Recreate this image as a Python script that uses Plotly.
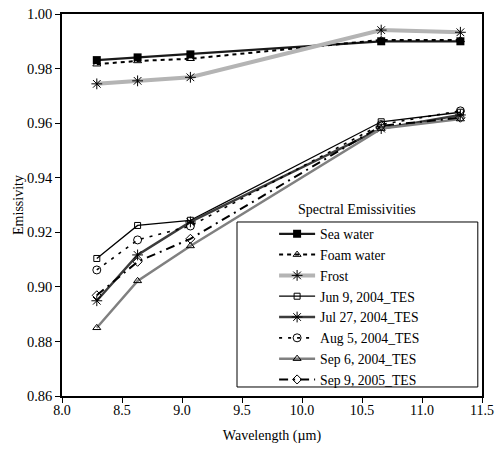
import plotly.graph_objects as go

wavelength = [8.29, 8.63, 9.07, 10.66, 11.32]

sea_water = [0.9831, 0.9841, 0.9852, 0.9900, 0.9900]
foam_water = [0.9816, 0.9828, 0.9836, 0.9905, 0.9905]
frost = [0.9744, 0.9755, 0.9768, 0.9941, 0.9933]
jun9_2004 = [0.9104, 0.9225, 0.9244, 0.9605, 0.9640]
jul27_2004 = [0.8949, 0.9117, 0.9238, 0.9580, 0.9630]
aug5_2004 = [0.9062, 0.9172, 0.9223, 0.9595, 0.9645]
sep6_2004 = [0.8850, 0.9022, 0.9150, 0.9580, 0.9615]
sep9_2005 = [0.8969, 0.9092, 0.9176, 0.9590, 0.9620]

names = ["Sea water", "Foam water", "Frost", "Jun 9, 2004_TES", "Jul 27, 2004_TES",
         "Aug 5, 2004_TES", "Sep 6, 2004_TES", "Sep 9, 2005_TES"]

x_ticks = [8.0, 8.5, 9.0, 9.5, 10.0, 10.5, 11.0, 11.5]
y_ticks = [0.86, 0.88, 0.90, 0.92, 0.94, 0.96, 0.98, 1.00]

FONT = "Liberation Serif, Times New Roman, Times, serif"

styles = [
    dict(line=dict(color="#1a1a1a", width=2.2),
         marker=dict(symbol="square", size=8, color="black")),
    dict(line=dict(color="black", width=2, dash="4px,4px"),
         marker=dict(symbol="triangle-up-open", size=7, color="black", line=dict(width=1))),
    dict(line=dict(color="#b4b4b4", width=4),
         marker=dict(symbol="asterisk-open", size=9, color="black", line=dict(width=1, color="black"))),
    dict(line=dict(color="black", width=1.3),
         marker=dict(symbol="square-open", size=6, color="black", line=dict(width=1))),
    dict(line=dict(color="#3c3c3c", width=2.5),
         marker=dict(symbol="asterisk-open", size=9, color="black", line=dict(width=1, color="black"))),
    dict(line=dict(color="black", width=1.6, dash="3px,6px"),
         marker=dict(symbol="circle-open", size=8, color="black", line=dict(width=1))),
    dict(line=dict(color="#808080", width=2.5),
         marker=dict(symbol="triangle-up-open", size=7, color="black", line=dict(width=1))),
    dict(line=dict(color="black", width=2, dash="9px,5px,2px,5px"),
         marker=dict(symbol="diamond-open", size=7, color="black", line=dict(width=1))),
]

series = [sea_water, foam_water, frost, jun9_2004, jul27_2004, aug5_2004, sep6_2004, sep9_2005]

fig = go.Figure()
for name, ys, st in zip(names, series, styles):
    fig.add_trace(go.Scatter(x=wavelength, y=ys, mode="lines+markers", name=name, **st))

fig.update_layout(
    width=495, height=450,
    margin=dict(l=62, r=13, t=14, b=54, autoexpand=False),
    paper_bgcolor="white", plot_bgcolor="white",
    font=dict(family=FONT, size=14, color="black"),
    showlegend=True,
    hovermode=False,
    legend=dict(x=0.505, y=0.465, xanchor="left", yanchor="top",
                bgcolor="rgba(0,0,0,0)", borderwidth=0,
                font=dict(family=FONT, size=13.7, color="black"),
                itemwidth=36, tracegroupgap=0),
    xaxis=dict(range=[8.0, 11.5], tickvals=x_ticks, tickformat=".1f",
               ticks="outside", ticklen=5, tickwidth=1, tickcolor="black",
               showline=True, linecolor="black", linewidth=1.5, mirror=True,
               showgrid=False, zeroline=False, automargin=False,
               ticklabeloverflow="allow", ticklabelstandoff=-5,
               tickfont=dict(family=FONT, size=14),
               title=dict(text="Wavelength (µm)", font=dict(family=FONT, size=14), standoff=14)),
    yaxis=dict(range=[0.86, 1.00], tickvals=y_ticks, tickformat=".2f",
               ticks="outside", ticklen=5, tickwidth=1, tickcolor="black",
               showline=True, linecolor="black", linewidth=1.5, mirror=True,
               showgrid=False, zeroline=False, automargin=False,
               ticklabeloverflow="allow",
               tickfont=dict(family=FONT, size=14.5),
               title=dict(text="Emissivity", font=dict(family=FONT, size=14), standoff=0)),
    shapes=[dict(type="rect", xref="paper", yref="paper",
                 x0=0.4167, x1=0.990, y0=0.0236, y1=0.4555,
                 line=dict(color="black", width=1), fillcolor="white", layer="below")],
    annotations=[dict(text="Spectral Emissivities", xref="paper", yref="paper",
                      x=0.702, y=0.4895, xanchor="center", yanchor="middle",
                      showarrow=False, font=dict(family=FONT, size=14, color="black"))],
)

# remove the browser's default 8px body margin so the 495x450 figure fills the window
fig.write_html("out.html", config={"displayModeBar": False},
               post_script="document.body.style.margin='0px';")
